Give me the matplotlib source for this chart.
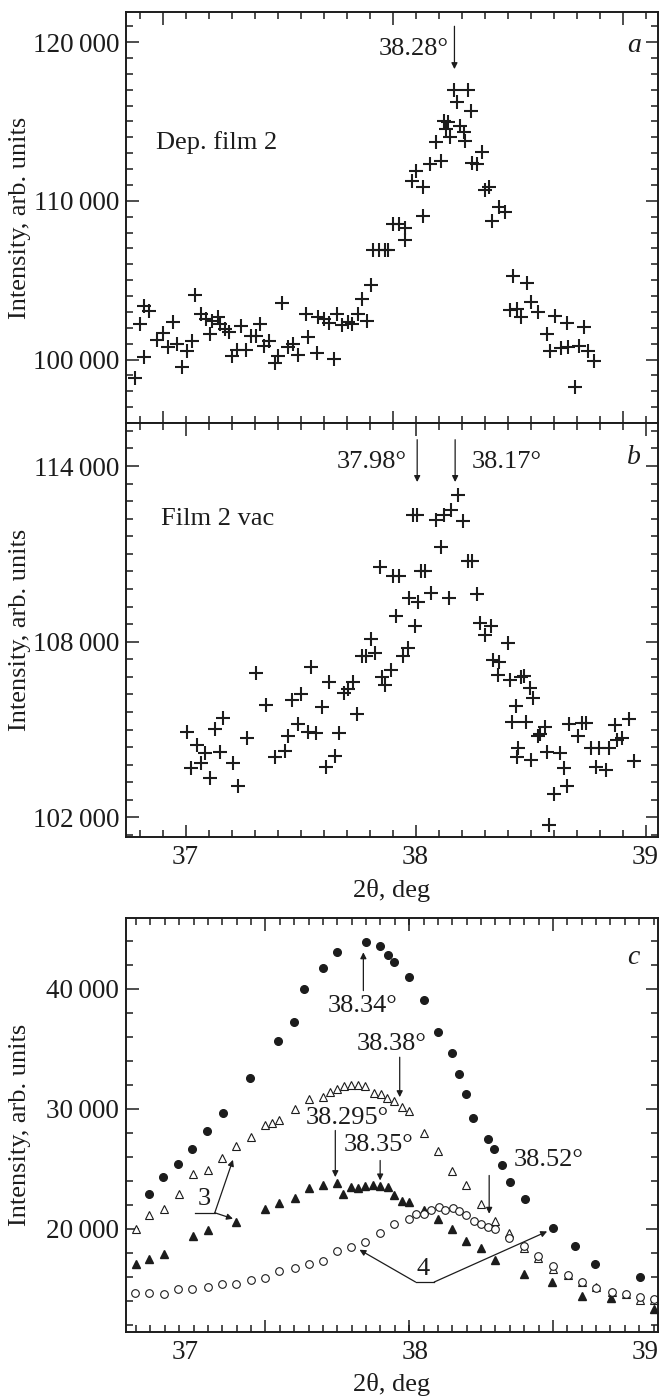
import numpy as np
import matplotlib
matplotlib.use('Agg')
import matplotlib.pyplot as plt
from matplotlib.ticker import MultipleLocator, FixedLocator, NullFormatter

# ---------------- data ----------------
# panel a : Dep. film 2
a_x = [36.876, 36.900, 36.918, 36.918, 36.940, 36.975, 37.000, 37.023, 37.045, 37.060, 37.083, 37.105,
       37.128, 37.140, 37.165, 37.185, 37.203, 37.215, 37.237, 37.248, 37.270, 37.285, 37.300, 37.320,
       37.338, 37.360, 37.383, 37.405, 37.420, 37.440, 37.461, 37.485, 37.500, 37.518, 37.545, 37.563,
       37.585, 37.623, 37.630, 37.668, 37.675, 37.702, 37.720, 37.743, 37.758, 37.780, 37.803, 37.821,
       37.848, 37.863, 37.885, 37.905, 37.915, 37.940, 37.964, 37.979, 38.002, 38.024, 38.050, 38.054,
       38.084, 38.099, 38.129, 38.129, 38.162, 38.185, 38.207, 38.222, 38.230, 38.237, 38.249, 38.264,
       38.279, 38.290, 38.309, 38.312, 38.324, 38.339, 38.345, 38.365, 38.387, 38.402, 38.417, 38.432,
       38.462, 38.485, 38.510, 38.522, 38.537, 38.555, 38.582, 38.600, 38.630, 38.669, 38.684, 38.705,
       38.729, 38.755, 38.762, 38.792, 38.807, 38.830, 38.849, 38.874]
a_y = [98825, 102245, 100189, 103400, 103085, 101238, 101658, 100776, 102350, 100986, 99517, 100567,
       101196, 104092, 102875, 102560, 101616, 102455, 102665, 102245, 101930, 101721, 100252, 100609,
       102140, 100609, 101511, 101511, 102245, 100881, 101196, 99769, 100252, 103547, 100776, 100986,
       100315, 102875, 101448, 100399, 102665, 102560, 102287, 100042, 102875, 102203, 102350, 102245,
       102875, 103820, 102455, 104722, 106904, 106904, 106904, 106904, 108541, 108541, 107534, 108268,
       111269, 111899, 110850, 109066, 112319, 113683, 112487, 115005, 114522, 114942, 113998, 116978,
       116201, 114732, 114312, 113788, 116978, 115677, 112361, 112319, 113053, 110682, 110850, 108751,
       109633, 109276, 103127, 105288, 103190, 102665, 104806, 103610, 102980, 101616, 100567, 102770,
       100735, 102287, 100776, 98300, 100881, 102078, 100567, 99895]

# panel b : Film 2 vac
b_x = [37.008, 37.023, 37.048, 37.068, 37.083, 37.108, 37.128, 37.150, 37.162, 37.207, 37.228, 37.267,
       37.307, 37.348, 37.387, 37.432, 37.447, 37.462, 37.487, 37.502, 37.532, 37.547, 37.567, 37.592,
       37.612, 37.622, 37.648, 37.667, 37.687, 37.705, 37.727, 37.747, 37.765, 37.783, 37.807, 37.825,
       37.847, 37.855, 37.867, 37.892, 37.900, 37.915, 37.927, 37.945, 37.967, 37.972, 37.987, 37.997,
       38.005, 38.009, 38.023, 38.042, 38.069, 38.087, 38.110, 38.122, 38.147, 38.155, 38.185, 38.207,
       38.226, 38.247, 38.267, 38.282, 38.301, 38.327, 38.337, 38.357, 38.364, 38.402, 38.409, 38.421,
       38.436, 38.442, 38.447, 38.457, 38.472, 38.481, 38.496, 38.502, 38.511, 38.532, 38.541, 38.562,
       38.571, 38.582, 38.604, 38.627, 38.646, 38.657, 38.669, 38.706, 38.724, 38.742, 38.762, 38.784,
       38.796, 38.829, 38.841, 38.867, 38.874, 38.897, 38.927, 38.949]
b_y = [104901, 103672, 104469, 103843, 104184, 103331, 105015, 104218, 105401, 103843, 103070, 104719,
       106948, 105833, 104070, 104275, 104776, 106004, 105185, 106209, 104924, 107141, 104867, 105754,
       103707, 106630, 104093, 104867, 106254, 106368, 106607, 105526, 107517, 107517, 108086, 107631,
       110554, 106778, 106516, 107050, 110235, 108870, 110235, 107517, 107801, 109507, 112339, 108529,
       112339, 109359, 110417, 110417, 109667, 112146, 111236, 112339, 109507, 112510, 112999, 112112,
       110758, 110758, 109621, 108643, 108222, 108529, 107392, 106857, 107312, 107960, 106709, 105265,
       105799, 104048, 104355, 106800, 106823, 105265, 106402, 103957, 106061, 104776, 104844, 105094,
       104241, 101739, 102785, 104184, 103672, 103070, 105185, 104776, 105208, 105208, 104355, 103729,
       104355, 103616, 104355, 105151, 104639, 104696, 105344, 103934]

# panel c : four curves
c1_x = [36.843, 36.902, 36.967, 37.030, 37.093, 37.161, 37.281, 37.404, 37.471, 37.516, 37.596, 37.658,
        37.783, 37.846, 37.879, 37.908, 37.973, 38.036, 38.096, 38.157, 38.190, 38.220, 38.250, 38.314,
        38.340, 38.377, 38.410, 38.474, 38.599, 38.692, 38.781, 38.976]
c1_y = [22860, 24304, 25415, 26638, 28193, 29666, 32583, 35694, 37222, 40000, 41722, 43111,
        43945, 43556, 42861, 42222, 41028, 39111, 36389, 34694, 32916, 31222, 29222, 27499,
        26638, 25277, 23888, 22443, 20057, 18526, 17081, 15970]

c2_x = [36.783, 36.843, 36.907, 36.970, 37.033, 37.097, 37.157, 37.221, 37.284, 37.347, 37.374, 37.408,
        37.476, 37.536, 37.596, 37.626, 37.658, 37.688, 37.718, 37.748, 37.781, 37.820, 37.849, 37.876,
        37.908, 37.940, 37.973, 38.036, 38.096, 38.157, 38.220, 38.284, 38.347, 38.407, 38.470, 38.534,
        38.599, 38.662, 38.722, 38.784, 38.852, 38.913, 38.976, 39.036]
c2_y = [19998, 21110, 21665, 22915, 24527, 24860, 25916, 26888, 27638, 28666, 28860, 29082,
        29999, 30833, 31027, 31416, 31638, 31888, 31999, 32027, 31944, 31360, 31249, 30916,
        30694, 30138, 29805, 27999, 26471, 24804, 23610, 22082, 20637, 19637, 18387, 17554,
        16665, 16109, 15554, 15137, 14720, 14581, 14081, 14026]

c3_x = [36.783, 36.843, 36.907, 37.033, 37.097, 37.221, 37.347, 37.408, 37.476, 37.536, 37.596, 37.658,
        37.685, 37.718, 37.748, 37.781, 37.813, 37.846, 37.879, 37.908, 37.940, 37.973, 38.036, 38.096,
        38.157, 38.220, 38.284, 38.347, 38.470, 38.594, 38.722, 38.849, 39.036]
c3_y = [17081, 17498, 17915, 19359, 19915, 20554, 21665, 22137, 22554, 23415, 23610, 23804,
        22915, 23471, 23415, 23526, 23610, 23526, 23471, 22776, 22304, 22221, 21582, 20832,
        19971, 18943, 18415, 17359, 16248, 15554, 14359, 14220, 13331]

c4_x = [36.778, 36.843, 36.907, 36.967, 37.030, 37.097, 37.157, 37.221, 37.284, 37.344, 37.407, 37.476,
        37.536, 37.599, 37.658, 37.721, 37.781, 37.846, 37.908, 37.973, 38.000, 38.037, 38.067, 38.100,
        38.130, 38.163, 38.190, 38.220, 38.253, 38.284, 38.314, 38.347, 38.407, 38.470, 38.534, 38.599,
        38.662, 38.722, 38.784, 38.852, 38.913, 38.976, 39.036]
c4_y = [14637, 14665, 14581, 14998, 14998, 15137, 15415, 15415, 15692, 15915, 16443, 16748,
        17026, 17304, 18109, 18470, 18887, 19665, 20415, 20776, 21248, 21248, 21582, 21804,
        21582, 21749, 21443, 21110, 20610, 20360, 20137, 19998, 19248, 18526, 17720, 16859,
        16109, 15554, 15081, 14720, 14526, 14303, 14165]

x_ticklabels = ['37', '38', '39']
ya_ticks = [100000, 110000, 120000]
ya_labels = ['100\u2009000', '110\u2009000', '120\u2009000']
yb_ticks = [102000, 108000, 114000]
yb_labels = ['102\u2009000', '108\u2009000', '114\u2009000']
yc_ticks = [20000, 30000, 40000]
yc_labels = ['20\u2009000', '30\u2009000', '40\u2009000']

# ---------------- figure ----------------
plt.rcParams['font.family'] = ['Liberation Serif', 'DejaVu Serif']
FS = 19
TFS = 19.5
INK = '#1c1c1c'
W, H = 661, 1400
fig = plt.figure(figsize=(W / 100, H / 100), dpi=100)


def rect(top, bottom, left=126, right=658):
    return [left / W, 1 - bottom / H, (right - left) / W, (bottom - top) / H]


axa = fig.add_axes(rect(12, 423))
axb = fig.add_axes(rect(423, 837))
axc = fig.add_axes(rect(918, 1332))

for ax in (axa, axb, axc):
    for s in ax.spines.values():
        s.set_linewidth(1.4)
        s.set_color(INK)
    ax.tick_params(which='both', direction='in', top=True, right=True,
                   color=INK, width=1.1, labelsize=TFS, labelcolor=INK)
    ax.tick_params(which='major', length=9)
    ax.tick_params(which='minor', length=5)
    ax.tick_params(axis='y', pad=5)
    ax.tick_params(axis='x', pad=6)
    ax.set_ylabel('Intensity, arb. units', fontsize=FS, color=INK)
    ax.yaxis.set_label_coords(-0.178, 0.5)

arrow = dict(arrowstyle='-|>', color=INK, lw=0.9, shrinkA=0, shrinkB=0, mutation_scale=9)

# ---- panel a ----
axa.plot(a_x, a_y, ls='none', marker='+', ms=9.5, mew=1.5, color=INK)
axa.set_xlim(36.839, 39.152)
axa.set_ylim(96000, 121900)
axa.xaxis.set_major_locator(FixedLocator([37, 38, 39]))
axa.xaxis.set_minor_locator(MultipleLocator(0.1))
axa.xaxis.set_major_formatter(NullFormatter())
axa.set_yticks(ya_ticks, ya_labels)
axa.yaxis.set_minor_locator(MultipleLocator(1000))
axa.text(36.97, 113683, 'Dep. film 2', fontsize=FS, color=INK, va='center', ha='left')
axa.text(39.047, 119769, 'a', fontsize=FS + 1, style='italic', color=INK, va='center', ha='center')
axa.text(38.24, 119559, '38.28°', fontsize=FS, color=INK, va='center', ha='right')
axa.annotate('', xy=(38.267, 118300), xytext=(38.267, 121000), arrowprops=arrow)

# ---- panel b ----
axb.plot(b_x, b_y, ls='none', marker='+', ms=9.5, mew=1.5, color=INK)
axb.set_xlim(36.741, 39.054)
axb.set_ylim(101330, 115470)
axb.set_xticks([37, 38, 39], x_ticklabels)
axb.xaxis.set_minor_locator(MultipleLocator(0.1))
axb.set_yticks(yb_ticks, yb_labels)
axb.yaxis.set_minor_locator(MultipleLocator(600))
axb.text(36.895, 112203, 'Film 2 vac', fontsize=FS, color=INK, va='center', ha='left')
axb.text(38.949, 114307, 'b', fontsize=FS + 1, style='italic', color=INK, va='center', ha='center')
axb.text(37.962, 114136, '37.98°', fontsize=FS, color=INK, va='center', ha='right')
axb.text(38.245, 114136, '38.17°', fontsize=FS, color=INK, va='center', ha='left')
for xa in (38.007, 38.172):
    axb.annotate('', xy=(xa, 113454), xytext=(xa, 114900), arrowprops=arrow)
fig.text(392 / W, 1 - 890 / H, '2θ, deg', fontsize=FS, color=INK, ha='center', va='center')

# ---- panel c ----
axc.plot(c1_x, c1_y, ls='none', marker='o', ms=5.5, color=INK, mec=INK)
axc.plot(c2_x, c2_y, ls='none', marker='^', ms=6.2, mfc='white', mec=INK, mew=0.8)
axc.plot(c3_x, c3_y, ls='none', marker='^', ms=6.2, color=INK, mec=INK)
axc.plot(c4_x, c4_y, ls='none', marker='o', ms=5.5, mfc='white', mec=INK, mew=0.8)
axc.set_xlim(36.741, 39.054)
axc.set_ylim(11387, 45917)
axc.xaxis.set_major_locator(FixedLocator([37.347, 37.970, 38.597]))
axc.xaxis.set_minor_locator(FixedLocator(np.arange(36.7845, 39.06, 0.0625)))
axc.xaxis.set_major_formatter(NullFormatter())
axc.set_yticks(yc_ticks, yc_labels)
axc.yaxis.set_minor_locator(MultipleLocator(2000))
sec = axc.secondary_xaxis('bottom')
sec.set_xticks([37, 38, 39], x_ticklabels)
sec.tick_params(length=0, labelsize=TFS, pad=6, labelcolor=INK)
sec.spines['bottom'].set_visible(False)
fig.text(392 / W, 1 - 1385 / H, '2θ, deg', fontsize=FS, color=INK, ha='center', va='center')

axc.text(38.946, 42640, 'c', fontsize=FS + 1, style='italic', color=INK, va='center', ha='center')
axc.text(37.771, 38611, '38.34°', fontsize=FS, color=INK, va='center', ha='center')
axc.annotate('', xy=(37.773, 43056), xytext=(37.773, 39861), arrowprops=arrow)
axc.text(37.898, 35417, '38.38°', fontsize=FS, color=INK, va='center', ha='center')
axc.annotate('', xy=(37.931, 30972), xytext=(37.931, 34305), arrowprops=arrow)
axc.text(37.703, 29249, '38.295°', fontsize=FS, color=INK, va='center', ha='center')
axc.annotate('', xy=(37.651, 24305), xytext=(37.651, 28194), arrowprops=arrow)
axc.text(37.838, 26943, '38.35°', fontsize=FS, color=INK, va='center', ha='center')
axc.annotate('', xy=(37.846, 24027), xytext=(37.846, 25693), arrowprops=arrow)
axc.text(38.579, 25693, '38.52°', fontsize=FS, color=INK, va='center', ha='center')
axc.annotate('', xy=(38.320, 21248), xytext=(38.320, 24444), arrowprops=arrow)

axc.text(37.082, 22499, '3', fontsize=FS, color=INK, va='center', ha='center')
axc.plot([37.042, 37.127], [21332, 21332], color=INK, lw=0.9)
axc.annotate('', xy=(37.206, 25749), xytext=(37.127, 21332), arrowprops=arrow)
axc.annotate('', xy=(37.206, 20832), xytext=(37.127, 21332), arrowprops=arrow)

axc.text(38.033, 16665, '4', fontsize=FS, color=INK, va='center', ha='center')
axc.plot([38.000, 38.081], [15554, 15554], color=INK, lw=0.9)
axc.annotate('', xy=(37.756, 18249), xytext=(38.000, 15554), arrowprops=arrow)
axc.annotate('', xy=(38.572, 19776), xytext=(38.081, 15554), arrowprops=arrow)

fig.savefig('out.png', dpi=100, facecolor='white')
